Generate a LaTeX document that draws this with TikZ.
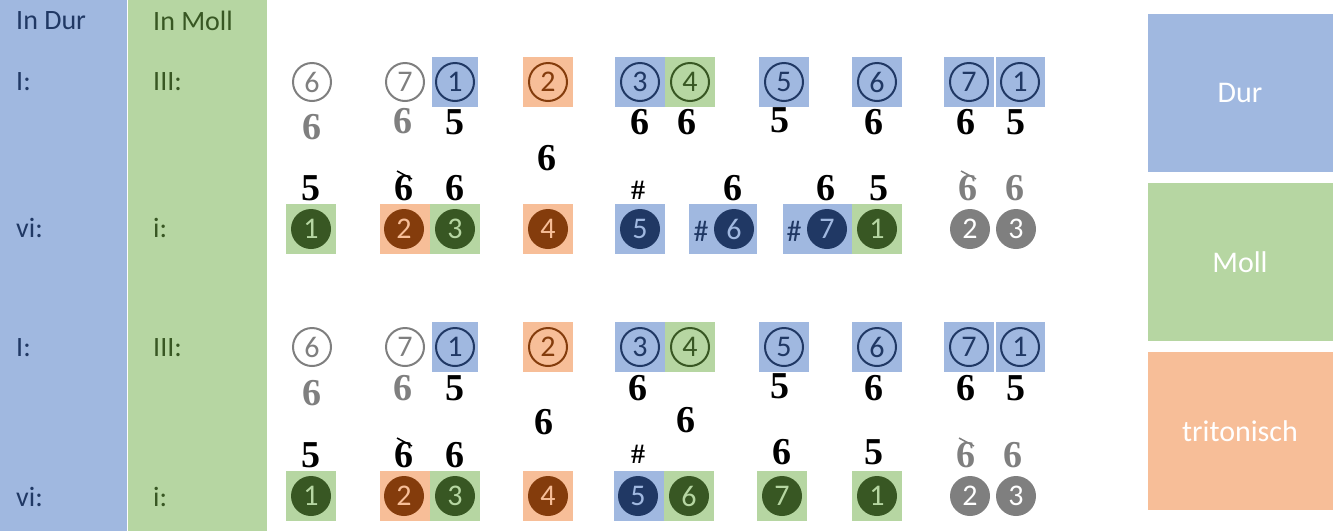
\documentclass[tikz,border=0pt]{standalone}
\usepackage{fontspec}
\setmainfont{Carlito}
\newfontfamily\fig{Liberation Serif}
\definecolor{lb}{HTML}{A0B8E0}
\definecolor{lg}{HTML}{B6D6A2}
\definecolor{lo}{HTML}{F7BE98}
\definecolor{db}{HTML}{203864}
\definecolor{dg}{HTML}{385723}
\definecolor{br}{HTML}{843C0C}
\definecolor{gr}{HTML}{7F7F7F}
\tikzset{
 lab/.style={font=\fontsize{28}{28}\selectfont,anchor=west,inner sep=0},
 fg/.style={font=\fig\bfseries\fontsize{38}{38}\selectfont,inner sep=0},
 num/.style={font=\fontsize{30}{30}\selectfont,inner sep=0},
 leg/.style={font=\fontsize{30}{30}\selectfont,text=white}
}
\newcommand\bx[4]{\fill[#4] (#1,#3-25) rectangle (#2,#3+25);}
\newcommand\oc[4]{\draw[#4,line width=2pt] (#1,#2) circle (19); \node[num,text=#4] at (#1,#2) {#3};}
\newcommand\fc[5]{\fill[#4] (#1,#2) circle (20); \node[num,text=#5] at (#1,#2) {#3};}
\newcommand\fgn[4]{\node[fg,text=#4] at (#1,#2) {#3};}
\newcommand\xs[3]{\fgn{#1}{#2}{6}{#3}\draw[#3,line width=1.5pt] (#1-7,#2-17) -- (#1+8,#2-9);}
\newcommand\toprow[1]{
 \oc{312}{#1}{6}{gr}\oc{405}{#1}{7}{gr}
 \bx{432}{478}{#1}{lb}\oc{455}{#1}{1}{db}
 \bx{523}{573}{#1}{lo}\oc{548}{#1}{2}{br}
 \bx{615}{665}{#1}{lb}\oc{640}{#1}{3}{db}
 \bx{665}{715}{#1}{lg}\oc{690}{#1}{4}{dg}
 \bx{759}{809}{#1}{lb}\oc{784}{#1}{5}{db}
 \bx{852}{902}{#1}{lb}\oc{877}{#1}{6}{db}
 \bx{944}{994}{#1}{lb}\oc{969}{#1}{7}{db}
 \bx{996}{1045}{#1}{lb}\oc{1020}{#1}{1}{db}}
\begin{document}
\begin{tikzpicture}[x=1pt,y=-1pt]
\useasboundingbox (0,0) rectangle (1333,531);
\fill[lb] (0,0) rectangle (127,531);
\fill[lg] (128,0) rectangle (267,531);
\node[lab,text=db] (hd) at (16,21) {In Dur};
\node[lab,text=dg] (hm) at (153,21) {In Moll};
\foreach \y/\a/\b in {82/I:/III:,228/vi:/i:,348/I:/III:,497/vi:/i:}{
 \node[lab,text=db] at (16,\y) {\a};
 \node[lab,text=dg] at (153,\y) {\b};}
\fill[lb] (1148,14) rectangle (1333,172); \node[leg] (d) at (1240,93) {Dur};
\fill[lg] (1148,183) rectangle (1333,341); \node[leg] (m) at (1240,262) {Moll};
\fill[lo] (1148,352) rectangle (1333,510); \node[leg] (t) at (1240,431) {tritonisch};
% upper system
\toprow{82}
\fgn{312}{127}{6}{gr}\fgn{403}{121}{6}{gr}\fgn{455}{122}{5}{black}
\fgn{640}{122}{6}{black}\fgn{687}{122}{6}{black}\fgn{780}{120}{5}{black}
\fgn{874}{122}{6}{black}\fgn{966}{122}{6}{black}\fgn{1016}{122}{5}{black}
\fgn{547}{158}{6}{black}
\fgn{311}{188}{5}{black}\xs{404}{188}{black}\fgn{455}{188}{6}{black}
\node[fg,font=\fig\bfseries\fontsize{28}{28}\selectfont] at (638,190) {\#};
\fgn{733}{188}{6}{black}\fgn{826}{188}{6}{black}\fgn{879}{188}{5}{black}
\xs{968}{188}{gr}\fgn{1015}{188}{6}{gr}
\bx{286}{336}{229}{lg}\fc{311}{229}{1}{dg}{lg}
\bx{380}{430}{229}{lo}\fc{404}{229}{2}{br}{lo}
\bx{430}{480}{229}{lg}\fc{455}{229}{3}{dg}{lg}
\bx{523}{573}{229}{lo}\fc{548}{229}{4}{br}{lo}
\bx{615}{665}{229}{lb}\fc{640}{229}{5}{db}{lb}
\bx{689}{757}{229}{lb}\fc{734}{229}{6}{db}{lb}\node[num,text=db] at (701,231) {\#};
\bx{783}{852}{229}{lb}\fc{827}{229}{7}{db}{lb}\node[num,text=db] at (794,231) {\#};
\bx{852}{902}{229}{lg}\fc{877}{229}{1}{dg}{lg}
\fc{970}{229}{2}{gr}{white}\fc{1016}{229}{3}{gr}{white}
% lower system
\toprow{347}
\fgn{312}{393}{6}{gr}\fgn{403}{388}{6}{gr}\fgn{455}{388}{5}{black}
\fgn{638}{388}{6}{black}\fgn{780}{386}{5}{black}
\fgn{874}{388}{6}{black}\fgn{966}{388}{6}{black}\fgn{1016}{388}{5}{black}
\fgn{544}{422}{6}{black}\fgn{686}{420}{6}{black}
\fgn{311}{455}{5}{black}\xs{404}{455}{black}\fgn{455}{455}{6}{black}
\node[fg,font=\fig\bfseries\fontsize{28}{28}\selectfont] at (638,454) {\#};
\fgn{782}{452}{6}{black}\fgn{874}{452}{5}{black}
\xs{966}{455}{gr}\fgn{1013}{455}{6}{gr}
\bx{286}{336}{496}{lg}\fc{311}{496}{1}{dg}{lg}
\bx{380}{430}{496}{lo}\fc{404}{496}{2}{br}{lo}
\bx{430}{480}{496}{lg}\fc{455}{496}{3}{dg}{lg}
\bx{523}{573}{496}{lo}\fc{548}{496}{4}{br}{lo}
\bx{614}{664}{496}{lb}\fc{638}{496}{5}{db}{lb}
\bx{664}{714}{496}{lg}\fc{689}{496}{6}{dg}{lg}
\bx{757}{807}{496}{lg}\fc{782}{496}{7}{dg}{lg}
\bx{852}{902}{496}{lg}\fc{877}{496}{1}{dg}{lg}
\fc{970}{496}{2}{gr}{white}\fc{1016}{496}{3}{gr}{white}
\end{tikzpicture}
\end{document}
